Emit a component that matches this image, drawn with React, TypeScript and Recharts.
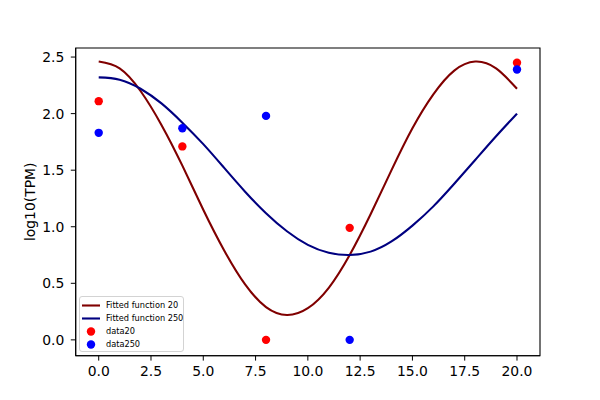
import React from 'react';
import { ComposedChart, Line, Scatter, XAxis, YAxis, Legend, ReferenceArea } from 'recharts';

// sampling times of the measurements
const sampleTimes = [0, 4, 8, 12, 20];
const data20 = [2.11, 1.71, 0.0, 0.99, 2.45];
const data250 = [1.83, 1.87, 1.98, 0.0, 2.39];

// fitted curves at each integer time
const fitTimes = [0, 1, 2, 3, 4, 5, 6, 7, 8, 9, 10, 11, 12, 13, 14, 15, 16, 17, 18, 19, 20];
const fitted20 = [2.46, 2.4, 2.2, 1.9, 1.54, 1.15, 0.79, 0.49, 0.29, 0.22, 0.28, 0.46, 0.75, 1.11, 1.5, 1.87, 2.17, 2.38, 2.46, 2.4, 2.22];
const fitted250 = [2.32, 2.3, 2.22, 2.09, 1.92, 1.73, 1.52, 1.31, 1.12, 0.96, 0.84, 0.77, 0.75, 0.78, 0.87, 1.01, 1.18, 1.38, 1.59, 1.8, 2.0];

const xTicks = [0, 2.5, 5, 7.5, 10, 12.5, 15, 17.5, 20];
const yTicks = [0, 0.5, 1, 1.5, 2, 2.5];

const X_DOMAIN: [number, number] = [-1.1, 21.1];
const Y_DOMAIN: [number, number] = [-0.14, 2.58];

const fitRows20 = fitTimes.map((t, i) => ({ x: t, y: fitted20[i] }));
const fitRows250 = fitTimes.map((t, i) => ({ x: t, y: fitted250[i] }));
const pointRows20 = sampleTimes.map((t, i) => ({ x: t, y: data20[i] }));
const pointRows250 = sampleTimes.map((t, i) => ({ x: t, y: data250[i] }));

const FONT = 'DejaVu Sans';
const tickStyle = { fontFamily: FONT, fontSize: 13.9, fill: '#000' };

const Dot = (color: string) => (props: any) => (
  <circle cx={props.cx} cy={props.cy} r={4.2} fill={color} />
);

const YLabel = (props: any) => {
  const vb = props.viewBox || { y: 48, height: 307.7 };
  const cy = vb.y + vb.height / 2;
  return (
    <text
      x={35.3}
      y={cy}
      transform={`rotate(-90, 35.3, ${cy})`}
      textAnchor="middle"
      fontFamily={FONT}
      fontSize={13.9}
      fill="#000"
    >
      log10(TPM)
    </text>
  );
};

const LegendBox = (props: any) => {
  const items = props.payload || [];
  return (
    <div
      style={{
        width: 105,
        height: 56,
        boxSizing: 'border-box',
        border: '1px solid #d3d3d3',
        borderRadius: 3,
        background: 'rgba(255,255,255,0.8)',
        fontFamily: FONT,
        fontSize: 8.2,
        color: '#000',
        paddingTop: 1.5,
      }}
    >
      {items.map((p: any, i: number) => (
        <div key={i} style={{ display: 'flex', alignItems: 'center', height: 13.1 }}>
          <svg width={26} height={13} style={{ flex: 'none' }}>
            {p.type === 'line' ? (
              <line x1={2} x2={20} y1={6.5} y2={6.5} stroke={p.color} strokeWidth={2.1} />
            ) : (
              <circle cx={11} cy={6.5} r={4.2} fill={p.color} />
            )}
          </svg>
          <span style={{ whiteSpace: 'nowrap', lineHeight: '13px' }}>{p.value}</span>
        </div>
      ))}
    </div>
  );
};

export default function App() {
  return (
    <div style={{ position: 'absolute', left: 0, top: 0, background: '#fff' }}>
      <ComposedChart width={600} height={400} margin={{ top: 48, right: 60, bottom: 0, left: 0 }}>
        <XAxis
          type="number"
          dataKey="x"
          domain={X_DOMAIN}
          ticks={xTicks}
          tickFormatter={(v: number) => v.toFixed(1)}
          height={44.3}
          tick={tickStyle}
          tickSize={4.9}
          tickMargin={6}
          stroke="#000"
          allowDataOverflow
        />
        <YAxis
          type="number"
          dataKey="y"
          domain={Y_DOMAIN}
          ticks={yTicks}
          tickFormatter={(v: number) => v.toFixed(1)}
          width={75.7}
          tick={tickStyle}
          tickSize={4.9}
          tickMargin={6.5}
          stroke="#000"
          allowDataOverflow
          label={<YLabel />}
        />
        {/* axes frame */}
        <ReferenceArea
          x1={X_DOMAIN[0]}
          x2={X_DOMAIN[1]}
          y1={Y_DOMAIN[0]}
          y2={Y_DOMAIN[1]}
          fill="none"
          fillOpacity={0}
          stroke="#000"
          strokeWidth={1.1}
          ifOverflow="visible"
        />
        <Legend
          layout="horizontal"
          verticalAlign="middle"
          align="center"
          wrapperStyle={{ left: 79, top: 296, width: 105, height: 56 }}
          content={<LegendBox />}
        />
        <Line
          data={fitRows20}
          dataKey="y"
          name="Fitted function 20"
          type="natural"
          stroke="#800000"
          strokeWidth={2.1}
          dot={false}
          activeDot={false}
          legendType="line"
          isAnimationActive={false}
        />
        <Line
          data={fitRows250}
          dataKey="y"
          name="Fitted function 250"
          type="natural"
          stroke="#000080"
          strokeWidth={2.1}
          dot={false}
          activeDot={false}
          legendType="line"
          isAnimationActive={false}
        />
        <Scatter
          data={pointRows20}
          dataKey="y"
          name="data20"
          fill="#ff0000"
          shape={Dot('#ff0000')}
          legendType="circle"
          isAnimationActive={false}
        />
        <Scatter
          data={pointRows250}
          dataKey="y"
          name="data250"
          fill="#0000ff"
          shape={Dot('#0000ff')}
          legendType="circle"
          isAnimationActive={false}
        />
      </ComposedChart>
    </div>
  );
}
